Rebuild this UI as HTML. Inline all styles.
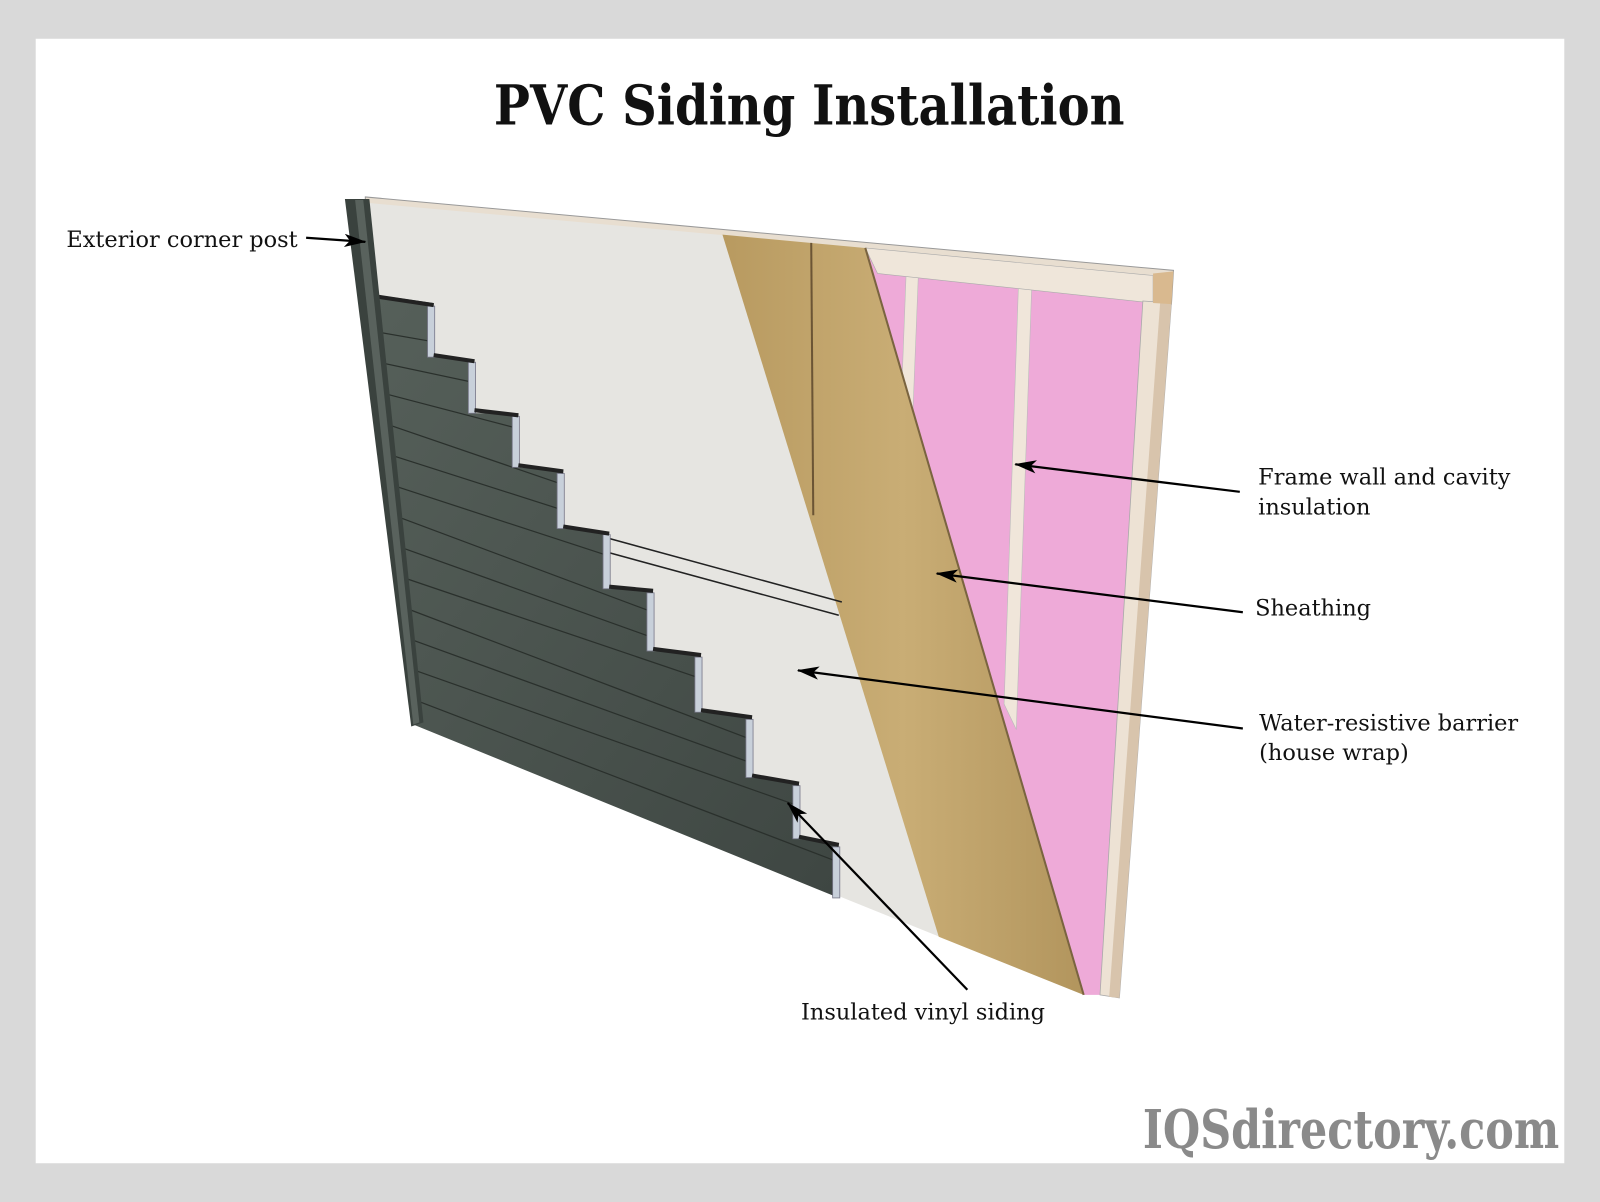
<!DOCTYPE html>
<html><head><meta charset="utf-8"><style>
html,body{margin:0;padding:0;background:#d9d9d9;}
svg{display:block}
text{font-family:"DejaVu Serif","Liberation Serif",serif;}
</style></head><body>
<svg width="1600" height="1202" viewBox="0 0 1568 1178" preserveAspectRatio="none" xmlns="http://www.w3.org/2000/svg">
<defs>
<marker id="a" viewBox="0 0 20 12" markerWidth="22" markerHeight="13" refX="19" refY="6" orient="auto" markerUnits="userSpaceOnUse">
<path d="M0,0 L20,6 L0,12 L5,6 Z" fill="#000"/>
</marker>
<linearGradient id="sid" x1="0" y1="0" x2="1" y2="1">
<stop offset="0" stop-color="#56605a"/><stop offset="0.5" stop-color="#4a534e"/><stop offset="1" stop-color="#3e4642"/>
</linearGradient>
<linearGradient id="sh" x1="0" y1="0" x2="1" y2="0">
<stop offset="0" stop-color="#b89a60"/><stop offset="0.5" stop-color="#c9ad75"/><stop offset="1" stop-color="#b2955d"/>
</linearGradient>
</defs>
<rect x="0" y="0" width="1568" height="1178" fill="#d9d9d9"/>
<rect x="35" y="38" width="1498" height="1102" fill="#ffffff"/>
<text x="793" y="122" text-anchor="middle" font-size="54" font-weight="bold" fill="#111" textLength="618" lengthAdjust="spacingAndGlyphs">PVC Siding Installation</text>

<polygon points="358,193 1150,265 1148,298 1130,297 358,200" fill="#e8ded0" stroke="#999" stroke-width="1"/>
<polygon points="362,199 848,243 1062,975 405,710" fill="#e6e5e1"/>
<polygon points="848,243 1130,290 1093,975 1062,975" fill="#eeaad8"/>
<polygon points="888,268 900,269 894,420 883,400" fill="#f0e6da" stroke="#bbb" stroke-width="0.6"/>
<polygon points="998,282 1011,283 996,715 984,690" fill="#f0e6da" stroke="#bbb" stroke-width="0.6"/>
<polygon points="848,243 1130,270 1130,297 860,268" fill="#efe6da" stroke="#aaa" stroke-width="0.6"/>
<polygon points="1120,295 1148,297 1097,978 1078,975" fill="#ede2d4" stroke="#aaa" stroke-width="0.8"/>
<polygon points="1137,296 1148,297 1097,978 1087,977" fill="#d8c4ac"/>
<polygon points="1130,268 1150,266 1148,298 1130,297" fill="#d9b98f"/>
<polygon points="708,230 848,243 1062,975 920,918" fill="url(#sh)"/>
<line x1="848" y1="243" x2="1062" y2="975" stroke="#7a6440" stroke-width="2"/>
<line x1="795" y1="238" x2="797" y2="505" stroke="#6b5535" stroke-width="2"/>
<line x1="598" y1="528" x2="825" y2="590" stroke="#222" stroke-width="1.5"/>
<line x1="598" y1="542" x2="822" y2="603" stroke="#222" stroke-width="1.5"/>
<polygon points="362,288 425,297 425,350 465,353 465,405 508,405 508,458 552,461 552,518 597,522 597,577 640,578 640,638 687,641 687,698 737,702 737,762 783,767 783,822 822,827 822,880 405,710" fill="url(#sid)"/>
<g stroke="#2a302c" stroke-width="1.2">
<line x1="368" y1="325" x2="425" y2="335"/>
<line x1="371" y1="355" x2="465" y2="375"/>
<line x1="374" y1="385" x2="508" y2="420"/>
<line x1="377" y1="415" x2="552" y2="475"/>
<line x1="380" y1="445" x2="552" y2="500"/>
<line x1="383" y1="475" x2="597" y2="545"/>
<line x1="386" y1="505" x2="640" y2="600"/>
<line x1="389" y1="535" x2="640" y2="625"/>
<line x1="392" y1="565" x2="687" y2="665"/>
<line x1="395" y1="595" x2="737" y2="725"/>
<line x1="398" y1="625" x2="737" y2="748"/>
<line x1="401" y1="655" x2="783" y2="790"/>
<line x1="404" y1="685" x2="822" y2="845"/>
</g>
<g fill="#c8d0da" stroke="#778" stroke-width="0.8">
<rect x="419" y="300" width="7" height="50"/>
<rect x="459" y="355" width="7" height="50"/>
<rect x="502" y="408" width="7" height="50"/>
<rect x="546" y="464" width="7" height="54"/>
<rect x="591" y="524" width="7" height="53"/>
<rect x="634" y="581" width="7" height="57"/>
<rect x="681" y="644" width="7" height="54"/>
<rect x="731" y="705" width="7" height="57"/>
<rect x="777" y="770" width="7" height="52"/>
<rect x="816" y="830" width="7" height="50"/>
</g>
<g stroke="#222" stroke-width="4">
<line x1="365" y1="290" x2="425" y2="299"/>
<line x1="425" y1="348" x2="465" y2="354"/>
<line x1="465" y1="402" x2="508" y2="407"/>
<line x1="508" y1="456" x2="552" y2="462"/>
<line x1="552" y1="516" x2="597" y2="523"/>
<line x1="597" y1="575" x2="640" y2="579"/>
<line x1="640" y1="636" x2="687" y2="642"/>
<line x1="687" y1="696" x2="737" y2="703"/>
<line x1="737" y1="760" x2="783" y2="768"/>
<line x1="783" y1="820" x2="822" y2="828"/>
</g>
<polygon points="338,195 362,195 415,708 403,712" fill="#3a423e"/>
<polygon points="348,196 356,196 411,708 405,710" fill="#59625d"/>

<g font-size="22" fill="#111">
<text x="65" y="242">Exterior corner post</text>
<text x="1233" y="475">Frame wall and cavity</text>
<text x="1233" y="504">insulation</text>
<text x="1230" y="603">Sheathing</text>
<text x="1234" y="716">Water-resistive barrier</text>
<text x="1234" y="745">(house wrap)</text>
<text x="785" y="999">Insulated vinyl siding</text>
</g>
<g stroke="#000" stroke-width="2.2" fill="none">
<line x1="300" y1="233" x2="358" y2="237" marker-end="url(#a)"/>
<line x1="1215" y1="482" x2="995" y2="455" marker-end="url(#a)"/>
<line x1="1218" y1="600" x2="918" y2="562" marker-end="url(#a)"/>
<line x1="1218" y1="714" x2="782" y2="657" marker-end="url(#a)"/>
<line x1="948" y1="970" x2="772" y2="787" marker-end="url(#a)"/>
</g>

<text x="1528" y="1125" text-anchor="end" font-size="52" font-weight="bold" fill="#8a8a8a" textLength="408" lengthAdjust="spacingAndGlyphs">IQSdirectory.com</text>
</svg>
</body></html>
